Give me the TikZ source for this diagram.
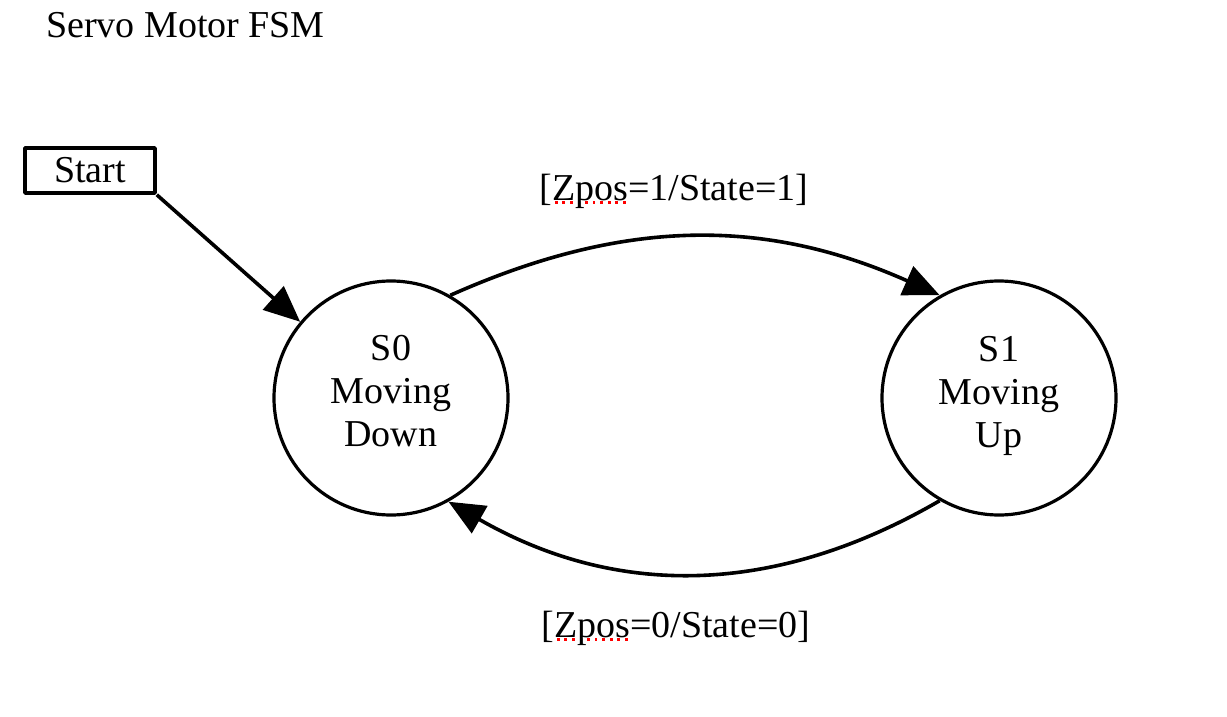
\documentclass[tikz,border=0pt]{standalone}
\usepackage{fontspec}
\setmainfont{Liberation Serif}
\usetikzlibrary{arrows.meta}
% red dotted spell-check mark under a word
\newcommand\spellmark[1]{\setbox0=\hbox{#1}\rlap{\color{red}\raisebox{-1.8pt}{\hbox to \wd0{\xleaders\hbox to 3.6pt{\hss\rule{1.4pt}{1.4pt}\hss}\hfill}}}\box0}
\begin{document}
\begin{tikzpicture}[x=0.5pt, y=0.5pt, font=\fontsize{19}{21.5}\selectfont, line join=round,
		>={Triangle[length=18pt,width=15.5pt]}]
	\tikzset{state/.style={draw, circle, line width=1.6pt, minimum size=117pt, inner sep=0pt},
		statetext/.style={align=center, yshift=3.5pt},
		startbox/.style={draw, rectangle, line width=1.8pt, minimum width=65pt, minimum height=22.5pt, inner sep=0pt},
		trans/.style={->, line width=1.8pt}}
	\useasboundingbox (0,0) rectangle (1227,-717);
	\node[anchor=base west] (title) at (39,-38) {Servo Motor FSM};
	\node[startbox] (start) at (90,-170.5) {Start};
	\node[state, label={[statetext]center:{S0\\Moving\\Down}}] (s0) at (391,-398) {};
	\node[state, label={[statetext, yshift=-2.5pt]center:{S1\\Moving\\Up}}] (s1) at (999,-398) {};
	\node[anchor=base] (up) at (674,-200) {[\spellmark{Zpos}=1/State=1]};
	\node[anchor=base] (down) at (676,-637) {[\spellmark{Zpos}=0/State=0]};
	\draw[trans] (start.south east) -- (s0.140);
	\draw[trans] (s0.60) to[bend left=24] (s1.120);
	\draw[trans] (s1.-120) to[bend left=30] (s0.-61);
\end{tikzpicture}
\end{document}
